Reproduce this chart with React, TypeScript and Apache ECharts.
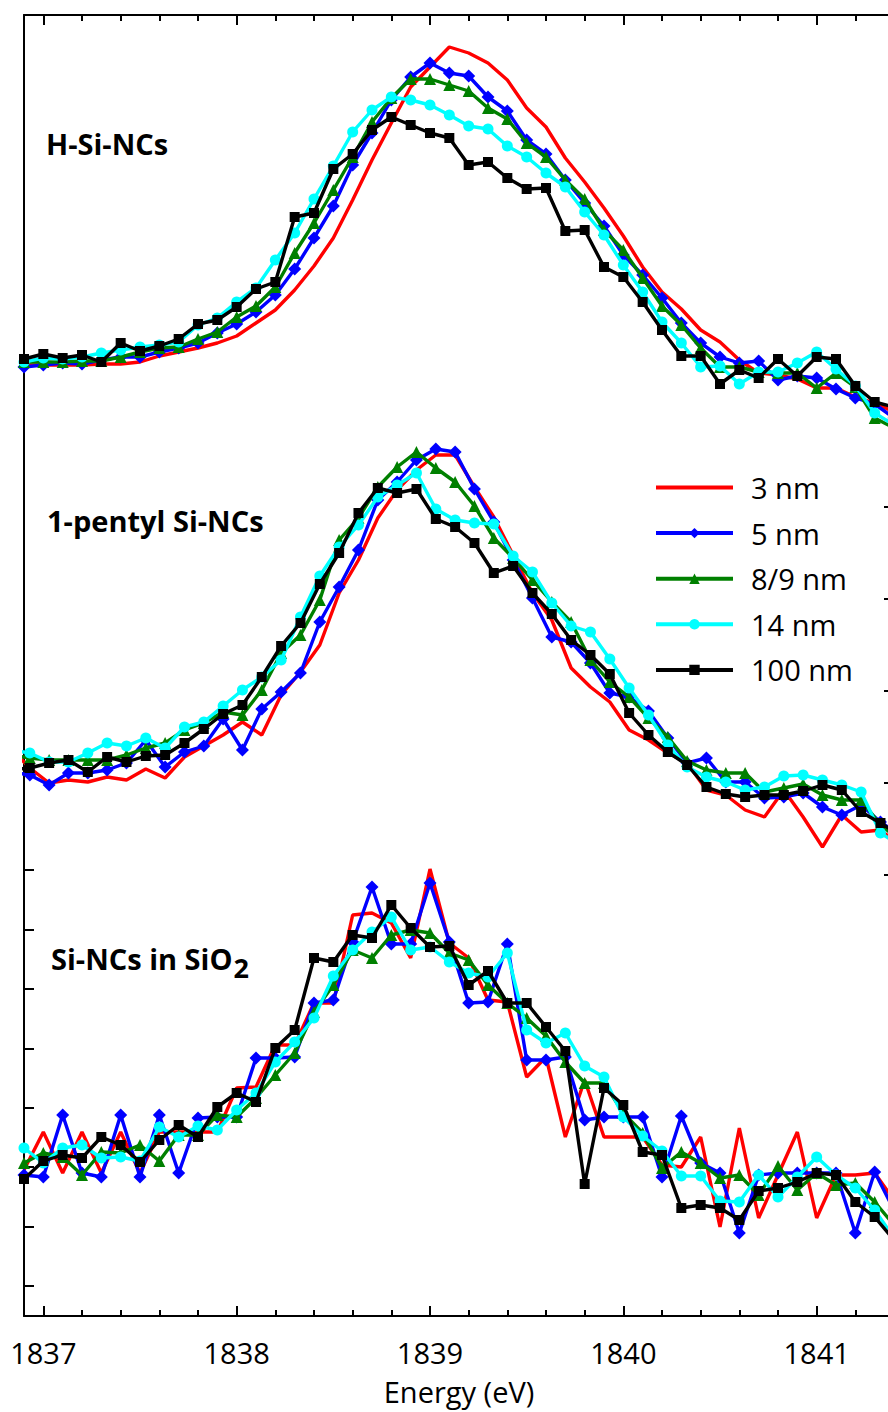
import React, { useEffect, useRef } from 'react';
import * as echarts from 'echarts';

// Photon energy (eV) sample points
const energyA = [
  1836.9, 1837.0, 1837.1, 1837.2, 1837.3, 1837.4, 1837.5, 1837.6, 1837.7, 1837.8,
  1837.9, 1838.0, 1838.1, 1838.2, 1838.3, 1838.4, 1838.5, 1838.6, 1838.7, 1838.8,
  1838.9, 1839.0, 1839.1, 1839.2, 1839.3, 1839.4, 1839.5, 1839.6, 1839.7, 1839.8,
  1839.9, 1840.0, 1840.1, 1840.2, 1840.3, 1840.4, 1840.5, 1840.6, 1840.7, 1840.8,
  1840.9, 1841.0, 1841.1, 1841.2, 1841.3, 1841.4,
];
const energyB = [
  1836.83, 1836.93, 1837.03, 1837.13, 1837.23, 1837.33, 1837.43, 1837.53, 1837.63, 1837.73,
  1837.83, 1837.93, 1838.03, 1838.13, 1838.23, 1838.33, 1838.43, 1838.53, 1838.63, 1838.73,
  1838.83, 1838.93, 1839.03, 1839.13, 1839.23, 1839.33, 1839.43, 1839.53, 1839.63, 1839.73,
  1839.83, 1839.93, 1840.03, 1840.13, 1840.23, 1840.33, 1840.43, 1840.53, 1840.63, 1840.73,
  1840.83, 1840.93, 1841.03, 1841.13, 1841.23, 1841.33, 1841.43,
];

const xMajorTicks = [1837, 1838, 1839, 1840, 1841];
const xMinorTicks = [
  1837.2, 1837.4, 1837.6, 1837.8, 1838.2, 1838.4, 1838.6, 1838.8,
  1839.2, 1839.4, 1839.6, 1839.8, 1840.2, 1840.4, 1840.6, 1840.8, 1841.2,
];
const leftTicks = [0, 1, 2, 3, 4, 5, 6, 7];
const rightTicks = [0, 1, 2, 3, 4];

const seriesNames = ['3 nm', '5 nm', '8/9 nm', '14 nm', '100 nm'];
const panelLabels = ['H-Si-NCs', '1-pentyl Si-NCs', 'Si-NCs in SiO'];
const subscriptText = '2';

// Panel 1: H-Si-NCs (a.u.)
const h3nm = [0.00, 0.00, 0.00, 0.00, 0.01, 0.01, 0.03, 0.09, 0.13, 0.17, 0.22, 0.29, 0.42, 0.55, 0.75, 0.99, 1.27, 1.65, 2.05, 2.42, 2.78, 2.98, 3.18, 3.12, 3.02, 2.85, 2.57, 2.38, 2.07, 1.83, 1.57, 1.29, 0.98, 0.73, 0.56, 0.35, 0.23, 0.05, -0.08, -0.10, -0.14, -0.23, -0.23, -0.32, -0.38, -0.47];
const h5nm = [-0.02, 0.00, 0.02, 0.01, 0.05, 0.08, 0.08, 0.13, 0.17, 0.22, 0.32, 0.41, 0.53, 0.70, 0.96, 1.27, 1.59, 2.00, 2.32, 2.65, 2.88, 3.02, 2.92, 2.89, 2.68, 2.54, 2.25, 2.11, 1.85, 1.62, 1.39, 1.10, 0.90, 0.67, 0.42, 0.22, 0.08, 0.02, 0.04, -0.15, -0.11, -0.13, -0.24, -0.33, -0.39, -0.53];
const h89nm = [0.03, 0.03, 0.03, 0.04, 0.04, 0.08, 0.13, 0.17, 0.18, 0.26, 0.33, 0.48, 0.59, 0.78, 1.12, 1.42, 1.75, 2.08, 2.43, 2.67, 2.86, 2.86, 2.80, 2.74, 2.57, 2.46, 2.22, 2.08, 1.85, 1.66, 1.35, 1.15, 0.87, 0.59, 0.40, 0.17, -0.02, -0.02, -0.07, -0.08, -0.08, -0.23, -0.08, -0.22, -0.53, -0.63];
const h14nm = [0.03, 0.07, 0.06, 0.08, 0.12, 0.15, 0.18, 0.20, 0.23, 0.40, 0.47, 0.63, 0.77, 1.05, 1.32, 1.66, 1.99, 2.33, 2.55, 2.68, 2.65, 2.60, 2.50, 2.39, 2.36, 2.19, 2.08, 1.92, 1.78, 1.53, 1.30, 1.00, 0.73, 0.43, 0.22, -0.02, -0.01, -0.19, -0.07, -0.07, 0.02, 0.13, -0.04, -0.21, -0.48, -0.60];
const h100nm = [0.06, 0.11, 0.07, 0.10, 0.03, 0.22, 0.14, 0.19, 0.26, 0.41, 0.45, 0.58, 0.76, 0.83, 1.48, 1.52, 1.96, 2.11, 2.35, 2.48, 2.40, 2.32, 2.27, 2.00, 2.03, 1.87, 1.76, 1.77, 1.34, 1.35, 0.98, 0.88, 0.63, 0.35, 0.09, 0.09, -0.19, -0.05, -0.13, 0.06, -0.11, 0.08, 0.06, -0.21, -0.37, -0.42];

// Panel 2: 1-pentyl Si-NCs (a.u.), sampled on energyB
const p3nm = [0.22, 0.02, -0.13, -0.10, -0.12, -0.07, -0.10, 0.01, -0.08, 0.13, 0.24, 0.35, 0.48, 0.35, 0.75, 0.98, 1.25, 1.77, 2.10, 2.52, 2.80, 3.00, 3.15, 3.15, 2.83, 2.53, 2.15, 1.77, 1.50, 1.02, 0.83, 0.68, 0.40, 0.30, 0.17, 0.07, -0.20, -0.25, -0.40, -0.47, -0.20, -0.47, -0.77, -0.45, -0.62, -0.60, -0.75];
const p5nm = [-0.02, -0.05, -0.15, -0.03, -0.03, 0.00, 0.07, 0.30, 0.03, 0.18, 0.24, 0.51, 0.20, 0.61, 0.78, 0.97, 1.48, 1.83, 2.20, 2.70, 2.88, 3.10, 3.21, 3.18, 2.81, 2.48, 2.10, 1.72, 1.33, 1.28, 1.07, 0.77, 0.73, 0.59, 0.32, 0.07, 0.12, -0.12, -0.12, -0.28, -0.27, -0.23, -0.37, -0.45, -0.35, -0.52, -0.65];
const p89nm = [0.15, 0.12, 0.10, 0.10, 0.10, 0.10, 0.15, 0.22, 0.27, 0.40, 0.47, 0.58, 0.55, 0.80, 1.17, 1.35, 1.70, 2.30, 2.52, 2.83, 3.03, 3.18, 3.02, 2.88, 2.64, 2.32, 2.12, 1.90, 1.68, 1.48, 1.10, 0.88, 0.73, 0.52, 0.33, 0.09, 0.00, -0.03, -0.03, -0.22, -0.18, -0.14, -0.25, -0.30, -0.30, -0.55, -0.70];
const p14nm = [0.20, 0.17, 0.08, 0.08, 0.17, 0.27, 0.24, 0.32, 0.22, 0.43, 0.48, 0.64, 0.80, 0.93, 1.10, 1.53, 1.94, 2.23, 2.45, 2.73, 2.85, 2.97, 2.61, 2.50, 2.47, 2.46, 2.14, 1.98, 1.67, 1.44, 1.38, 1.11, 0.82, 0.55, 0.25, 0.03, -0.07, -0.12, -0.20, -0.17, -0.06, -0.05, -0.10, -0.15, -0.22, -0.63, -0.75];
const p100nm = [0.00, 0.02, 0.07, 0.10, -0.02, 0.13, 0.08, 0.14, 0.15, 0.27, 0.41, 0.56, 0.65, 0.93, 1.24, 1.47, 1.86, 2.17, 2.57, 2.82, 2.77, 2.81, 2.51, 2.43, 2.27, 1.97, 2.04, 1.77, 1.56, 1.30, 1.15, 0.96, 0.57, 0.35, 0.18, 0.05, -0.17, -0.24, -0.27, -0.25, -0.25, -0.21, -0.15, -0.20, -0.42, -0.53, -0.65];

// Panel 3: Si-NCs in SiO2 (a.u.)
const s3nm = [0.05, 0.43, 0.02, 0.43, 0.02, 0.43, 0.02, 0.43, 0.43, 0.43, 0.43, 0.87, 0.88, 1.30, 1.30, 1.72, 1.72, 2.60, 2.62, 2.52, 2.17, 3.06, 2.32, 2.17, 1.75, 1.73, 0.98, 1.18, 0.38, 0.95, 0.38, 0.38, 0.38, 0.10, 0.08, 0.38, -0.52, 0.47, -0.43, 0.00, 0.43, -0.43, 0.00, 0.00, 0.02, -0.25];
const s5nm = [0.00, -0.02, 0.60, 0.02, -0.02, 0.60, -0.02, 0.60, 0.02, 0.57, 0.58, 0.58, 1.17, 1.17, 1.18, 1.72, 1.75, 2.33, 2.88, 2.31, 2.31, 2.92, 2.33, 1.72, 1.73, 2.31, 1.15, 1.15, 1.18, 0.55, 0.58, 0.58, 0.58, -0.02, 0.59, 0.12, 0.02, -0.58, 0.00, 0.02, 0.02, 0.02, 0.02, -0.58, 0.03, -0.35];
const s89nm = [0.12, 0.22, 0.18, 0.00, 0.23, 0.22, 0.30, 0.14, 0.40, 0.40, 0.60, 0.58, 0.77, 1.00, 1.22, 1.63, 1.90, 2.25, 2.17, 2.40, 2.45, 2.42, 2.22, 2.15, 1.90, 1.72, 1.57, 1.39, 1.13, 0.92, 0.92, 0.62, 0.42, 0.07, 0.23, 0.12, -0.03, 0.00, -0.20, 0.09, -0.15, 0.02, -0.10, -0.08, -0.27, -0.50];
const s14nm = [0.27, 0.12, 0.27, 0.30, 0.17, 0.18, 0.14, 0.48, 0.38, 0.49, 0.45, 0.65, 0.82, 1.13, 1.33, 1.57, 1.99, 2.25, 2.43, 2.58, 2.25, 2.28, 2.13, 2.02, 1.98, 2.22, 1.45, 1.32, 1.42, 1.09, 0.98, 0.58, 0.39, 0.24, -0.01, -0.01, -0.26, -0.27, 0.00, -0.22, -0.02, 0.18, 0.00, -0.13, -0.35, -0.63];
const s100nm = [-0.04, 0.14, 0.20, 0.17, 0.38, 0.30, 0.13, 0.35, 0.50, 0.38, 0.68, 0.82, 0.73, 1.27, 1.45, 2.17, 2.13, 2.40, 2.37, 2.70, 2.47, 2.28, 2.29, 1.90, 2.04, 1.72, 1.72, 1.48, 1.24, -0.09, 0.87, 0.70, 0.23, 0.20, -0.33, -0.30, -0.33, -0.45, -0.16, -0.13, -0.07, 0.02, 0.00, -0.27, -0.42, -0.65];

const FONT = '"Open Sans", "Noto Sans", sans-serif';
const COLORS = ['#ff0000', '#0000ff', '#008000', '#00ffff', '#000000'];
const SYMBOLS = ['none', 'diamond', 'triangle', 'circle', 'rect'];
const SYMBOL_SIZES = [0, 13, 12, 11, 10];

const X_MIN = 1836.9;
const X_MAX = 1841.4;

export default function App() {
  const ref = useRef<HTMLDivElement>(null);

  useEffect(() => {
    if (!ref.current) return;
    const chart = echarts.init(ref.current, null, { renderer: 'svg' });

    const panels = [
      { x: energyA, sets: [h3nm, h5nm, h89nm, h14nm, h100nm] },
      { x: energyB, sets: [p3nm, p5nm, p89nm, p14nm, p100nm] },
      { x: energyA, sets: [s3nm, s5nm, s89nm, s14nm, s100nm] },
    ];

    const series: any[] = [];
    panels.forEach((p, pi) => {
      p.sets.forEach((vals, si) => {
        series.push({
          type: 'line',
          name: seriesNames[si],
          xAxisIndex: 0,
          yAxisIndex: pi,
          data: p.x.map((e, i) => [e, vals[i]]),
          symbol: SYMBOLS[si],
          symbolSize: SYMBOL_SIZES[si],
          showSymbol: si !== 0,
          lineStyle: { color: COLORS[si], width: 3.4 },
          itemStyle: { color: COLORS[si] },
          clip: true,
          silent: true,
          z: 2 + si,
        });
      });
    });

    const axisLineStyle = { color: '#000', width: 2 };
    const xBase = { type: 'value', min: X_MIN, max: X_MAX, gridIndex: 0, splitLine: { show: false } };

    const labelSize = 29;
    const ctx = document.createElement('canvas').getContext('2d')!;
    ctx.font = `bold ${labelSize}px "Open Sans"`;
    const subX = 51 + ctx.measureText(panelLabels[2]).width + 1;

    const labelStyle = { fill: '#000', fontSize: labelSize, fontWeight: 'bold', fontFamily: FONT, align: 'left', verticalAlign: 'middle' };

    const legendData = seriesNames.map((n, i) => (i === 0 ? { name: n, itemStyle: { opacity: 0 } } : { name: n }));

    const option: any = {
      animation: false,
      backgroundColor: '#ffffff',
      grid: { left: 24, top: 15, width: 870, height: 1301 },
      xAxis: [
        {
          ...xBase, position: 'bottom',
          axisLine: { show: true, onZero: false, lineStyle: axisLineStyle },
          axisTick: { show: true, inside: true, length: 10, lineStyle: axisLineStyle, customValues: xMajorTicks },
          axisLabel: { show: true, customValues: xMajorTicks, margin: 22, fontSize: 29, fontFamily: FONT, color: '#000', formatter: (v: number) => String(v) },
          name: 'Energy (eV)', nameLocation: 'middle', nameGap: 61,
          nameTextStyle: { fontSize: 29, fontFamily: FONT, color: '#000' },
        },
        {
          ...xBase, position: 'bottom',
          axisLine: { show: false, onZero: false },
          axisTick: { show: true, inside: true, length: 6, lineStyle: axisLineStyle, customValues: xMinorTicks },
          axisLabel: { show: false },
        },
        {
          ...xBase, position: 'top',
          axisLine: { show: true, onZero: false, lineStyle: axisLineStyle },
          axisTick: { show: true, inside: true, length: 10, lineStyle: axisLineStyle, customValues: xMajorTicks },
          axisLabel: { show: false },
        },
        {
          ...xBase, position: 'top',
          axisLine: { show: false, onZero: false },
          axisTick: { show: true, inside: true, length: 6, lineStyle: axisLineStyle, customValues: xMinorTicks },
          axisLabel: { show: false },
        },
      ],
      yAxis: [
        { type: 'value', gridIndex: 0, min: -9.51, max: 3.50, show: false },
        { type: 'value', gridIndex: 0, min: -5.46, max: 7.55, show: false },
        { type: 'value', gridIndex: 0, min: -1.41, max: 11.60, show: false },
        {
          type: 'value', gridIndex: 0, position: 'left', min: -0.504, max: 21.387,
          axisLine: { show: true, onZero: false, lineStyle: axisLineStyle },
          axisTick: { show: true, inside: true, length: 10, lineStyle: axisLineStyle, customValues: leftTicks },
          axisLabel: { show: false }, splitLine: { show: false },
        },
        {
          type: 'value', gridIndex: 0, position: 'right', min: -4.793, max: 9.348,
          axisLine: { show: true, onZero: false, lineStyle: axisLineStyle },
          axisTick: { show: true, inside: true, length: 10, lineStyle: axisLineStyle, customValues: rightTicks },
          axisLabel: { show: false }, splitLine: { show: false },
        },
      ],
      legend: {
        data: legendData,
        orient: 'vertical',
        left: 654,
        top: 473,
        padding: 0,
        itemWidth: 77,
        itemHeight: 13,
        itemGap: 16.6,
        selectedMode: false,
        lineStyle: { width: 4 },
        textStyle: { fontSize: 29, fontFamily: FONT, color: '#000', padding: [0, 0, 0, 13] },
      },
      graphic: [
        { type: 'text', x: 46, y: 143, style: { ...labelStyle, text: panelLabels[0] } },
        { type: 'text', x: 47, y: 520, style: { ...labelStyle, text: panelLabels[1] } },
        { type: 'text', x: 51, y: 958, style: { ...labelStyle, text: panelLabels[2] } },
        { type: 'text', x: subX, y: 967, style: { ...labelStyle, fontSize: 27, text: subscriptText } },
      ],
      series,
    };

    chart.setOption(option);
    return () => chart.dispose();
  }, []);

  return (
    <div style={{ position: 'fixed', left: 0, top: 0, width: 888, height: 1412, overflow: 'hidden', background: '#fff' }}>
      <div ref={ref} style={{ position: 'absolute', left: 0, top: 0, width: 900, height: 1412 }} />
    </div>
  );
}
